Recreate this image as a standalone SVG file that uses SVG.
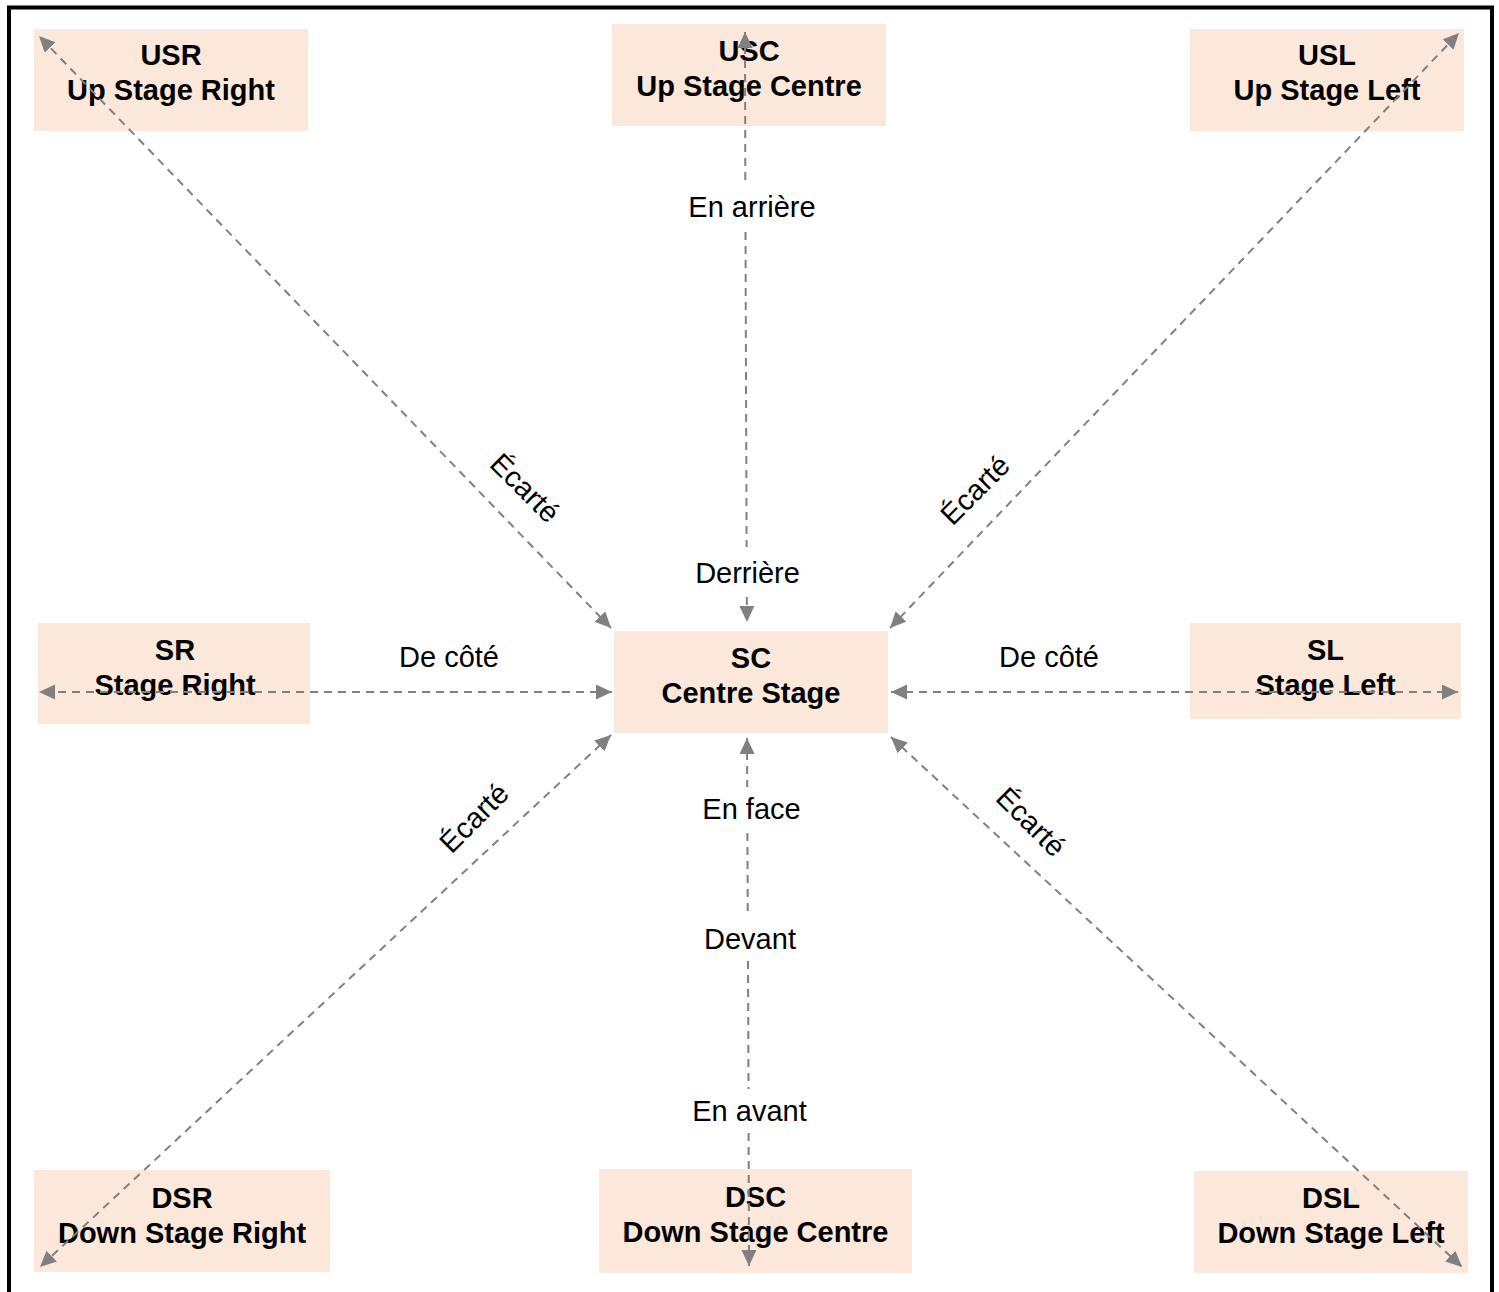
<svg xmlns="http://www.w3.org/2000/svg" width="1499" height="1292" viewBox="0 0 1499 1292">
  <style>
    .box { fill: #FCE8DA; }
    .nt { font-family: "Liberation Sans", Arial, sans-serif; font-size: 29px; font-weight: bold; fill: #000; text-anchor: middle; }
    .lbl { font-family: "Liberation Sans", Arial, sans-serif; font-size: 29px; fill: #000; text-anchor: middle; }
    .rl { font-family: "Liberation Sans", Arial, sans-serif; font-size: 29px; fill: #000; text-anchor: middle; dominant-baseline: central; }
    .edge { fill: none; stroke: #808080; stroke-width: 2; stroke-dasharray: 8 6; marker-start: url(#ah); marker-end: url(#ah); }
  </style>
  <defs>
    <marker id="ah" markerUnits="userSpaceOnUse" markerWidth="17" markerHeight="16" refX="16" refY="7.5" orient="auto-start-reverse">
      <path d="M0,0 L16,7.5 L0,15 Z" fill="#808080"/>
    </marker>
  </defs>
  <rect x="0" y="0" width="1499" height="1292" fill="#fff"/>
  <rect x="9" y="7.5" width="1483" height="1310" fill="none" stroke="#000" stroke-width="4"/>

  <g id="nodes">
    <g id="USR"><rect class="box" x="34" y="29" width="274" height="102"/><text class="nt" x="171" y="65">USR</text><text class="nt" x="171" y="100">Up Stage Right</text></g>
    <g id="USC"><rect class="box" x="612" y="24" width="274" height="102"/><text class="nt" x="749" y="61">USC</text><text class="nt" x="749" y="96">Up Stage Centre</text></g>
    <g id="USL"><rect class="box" x="1190" y="29" width="274" height="102"/><text class="nt" x="1327" y="65">USL</text><text class="nt" x="1327" y="100">Up Stage Left</text></g>
    <g id="SR"><rect class="box" x="38" y="623" width="272" height="101"/><text class="nt" x="175" y="660">SR</text><text class="nt" x="175" y="695">Stage Right</text></g>
    <g id="SC"><rect class="box" x="614" y="631" width="274" height="102"/><text class="nt" x="751" y="668">SC</text><text class="nt" x="751" y="703">Centre Stage</text></g>
    <g id="SL"><rect class="box" x="1190" y="623" width="271" height="96"/><text class="nt" x="1325.5" y="660">SL</text><text class="nt" x="1325.5" y="695">Stage Left</text></g>
    <g id="DSR"><rect class="box" x="34" y="1170" width="296" height="102"/><text class="nt" x="182" y="1208">DSR</text><text class="nt" x="182" y="1243">Down Stage Right</text></g>
    <g id="DSC"><rect class="box" x="599" y="1169" width="313" height="104"/><text class="nt" x="755.5" y="1207">DSC</text><text class="nt" x="755.5" y="1242">Down Stage Centre</text></g>
    <g id="DSL"><rect class="box" x="1194" y="1171" width="274" height="102"/><text class="nt" x="1331" y="1208">DSL</text><text class="nt" x="1331" y="1243">Down Stage Left</text></g>
  </g>

  <g id="connectors">
    <path class="edge" d="M611,628 L39,36"/>
    <path class="edge" d="M890,628 L1459,33"/>
    <path class="edge" d="M611,735 L40,1267"/>
    <path class="edge" d="M891,737 L1462,1267"/>
    <path class="edge" d="M612,692 L39,692"/>
    <path class="edge" d="M891,692 L1458,692"/>
    <path class="edge" d="M745,32 L745.3,181 M745.5,232 L746.6,547 M746.8,597 L747,622"/>
    <path class="edge" d="M747,738 L747.2,787 M747.4,833 L747.8,917 M748,961 L748.5,1089 M748.6,1133 L749,1266"/>
  </g>

  <g id="labels">
    <text class="lbl" x="752" y="217">En arrière</text>
    <text class="lbl" x="747.5" y="583">Derrière</text>
    <text class="lbl" x="449" y="667">De côté</text>
    <text class="lbl" x="1049" y="667">De côté</text>
    <text class="lbl" x="751.5" y="819">En face</text>
    <text class="lbl" x="750" y="949">Devant</text>
    <text class="lbl" x="749.5" y="1121">En avant</text>
    <text class="rl" transform="translate(525,488) rotate(45)">Écarté</text>
    <text class="rl" transform="translate(975,490) rotate(-45)">Écarté</text>
    <text class="rl" transform="translate(474,818) rotate(-45)">Écarté</text>
    <text class="rl" transform="translate(1031,822) rotate(45)">Écarté</text>
  </g>
</svg>
